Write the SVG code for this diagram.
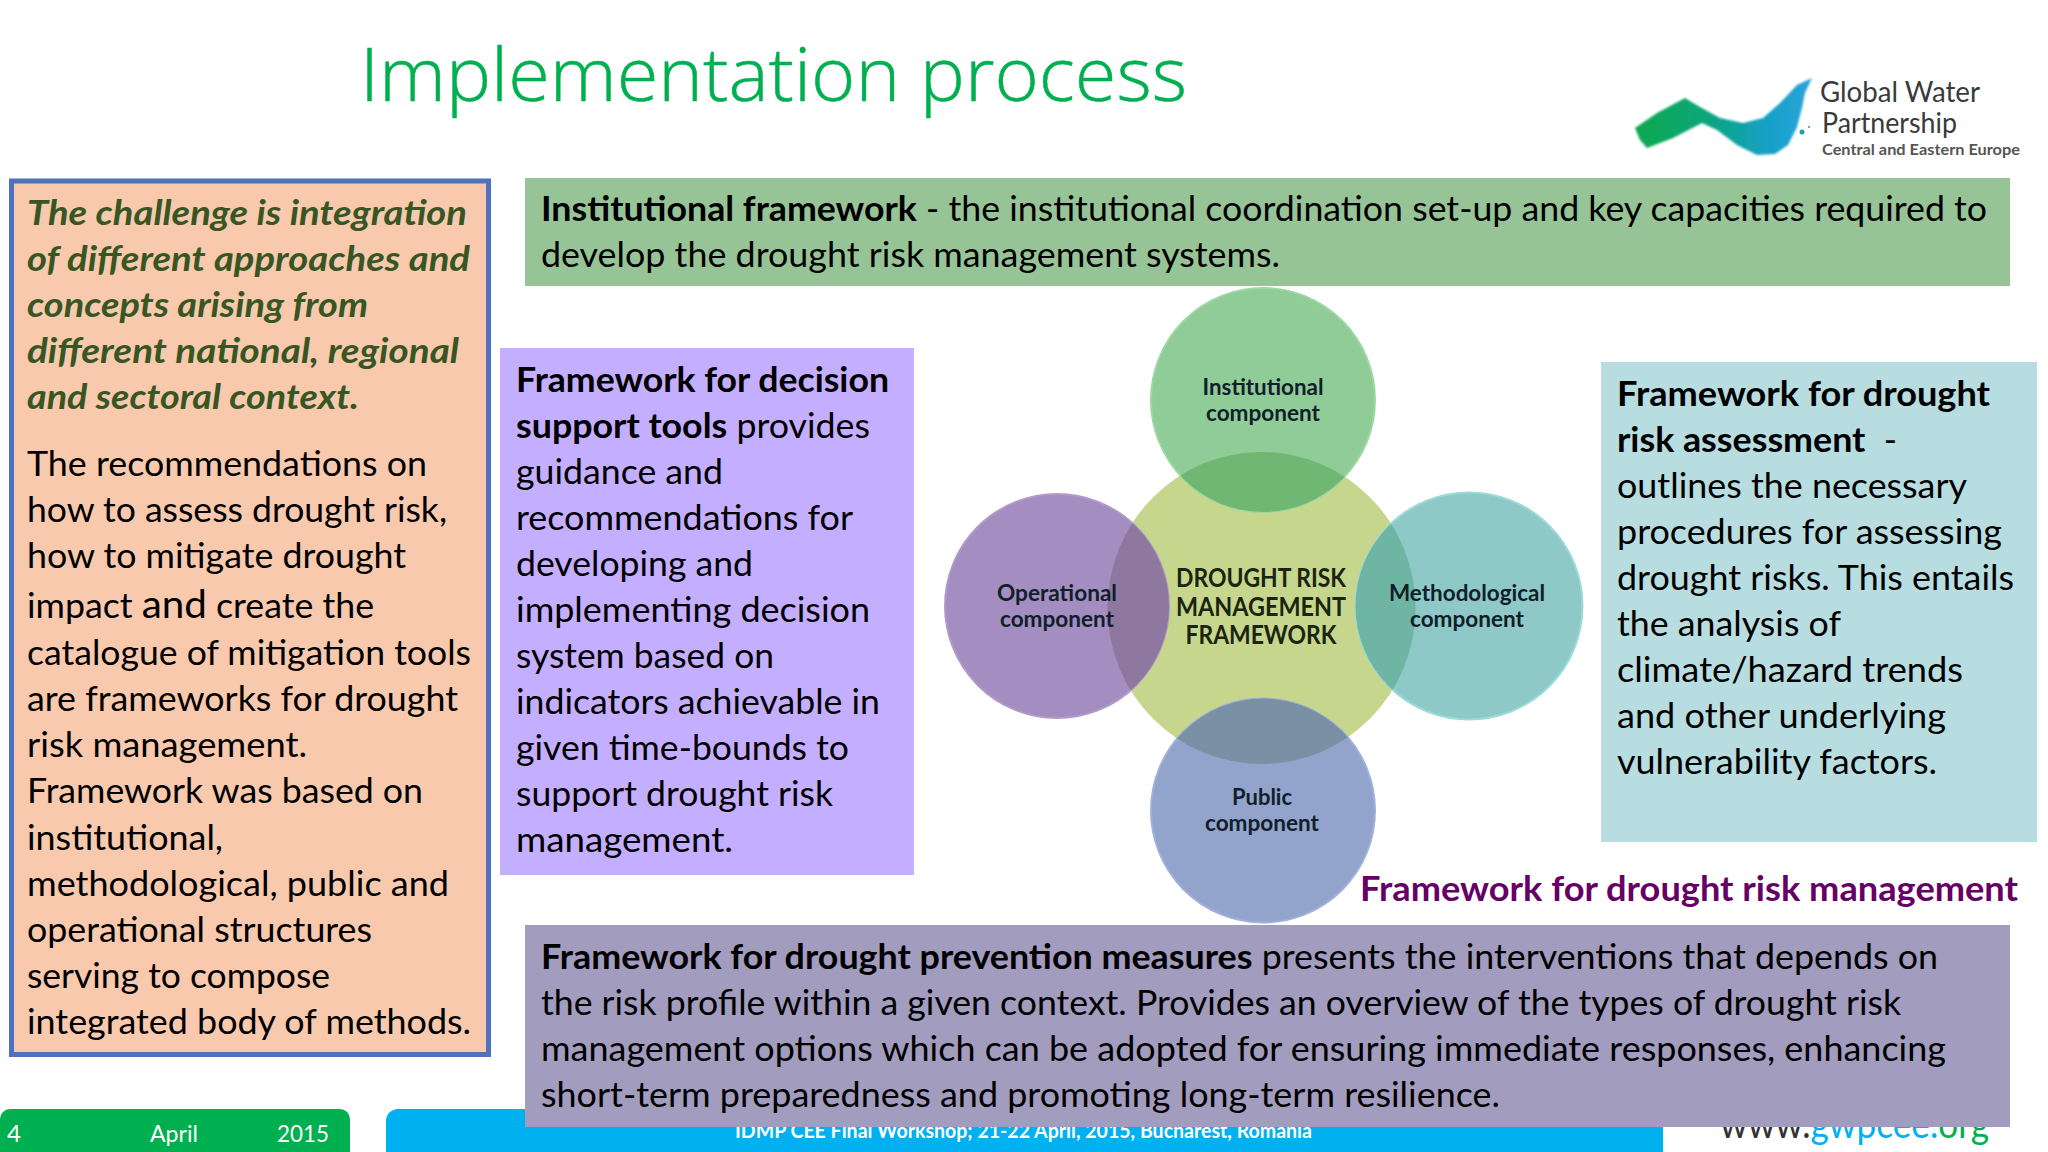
<svg xmlns="http://www.w3.org/2000/svg" width="2048" height="1152" viewBox="0 0 2048 1152">
<style>
text{font-family:Lato,"Liberation Sans",sans-serif;fill:#000;font-size:34.5px}
.b{font-weight:700}
.ch{font-weight:700;font-style:italic;fill:#375623}
.cl{font-size:23px;font-weight:700;fill:#10202a;text-anchor:middle}
.cc{font-size:26px;font-weight:700;fill:#1a2410;text-anchor:middle}
.ft{font-size:24px;fill:#fff}
</style>
<defs>
<linearGradient id="brush" x1="0" x2="1" y1="0" y2="0"><stop offset="0" stop-color="#0aa84f"/><stop offset=".4" stop-color="#0aa67a"/><stop offset=".75" stop-color="#16a0c8"/><stop offset="1" stop-color="#2aa5d8"/></linearGradient>
<clipPath id="cen"><ellipse cx="1261.5" cy="608" rx="154" ry="156"/></clipPath>
<filter id="soft"><feGaussianBlur stdDeviation="0.8"/></filter>
</defs>
<rect width="2048" height="1152" fill="#fff"/>
<g id="title"><text x="360" y="101" style="font-family:'Open Sans',sans-serif;font-weight:300;font-size:74px;fill:#00b050;stroke:#00b050;stroke-width:.5" textLength="827" lengthAdjust="spacingAndGlyphs">Implementation process</text></g>
<g id="logo">
<path d="M1635 128L1657 113L1685 98L1700 107L1720 118L1743 123L1763 118L1780 103L1797 85L1812 78L1805 93L1802 108L1797 127L1788 145L1775 154L1757 155L1737 145L1717 130L1702 123L1673 138L1647 148L1640 140Z" fill="url(#brush)" filter="url(#soft)"/>
<circle cx="1802" cy="132" r="2.5" fill="#1a9fb8"/><circle cx="1809" cy="127" r="1" fill="#1a9fb8"/>
<text x="1820" y="102" style="font-size:28px;fill:#3a3a3a" textLength="160" lengthAdjust="spacingAndGlyphs">Global Water</text>
<text x="1822" y="133" style="font-size:28px;fill:#3a3a3a" textLength="135" lengthAdjust="spacingAndGlyphs">Partnership</text>
<text x="1822" y="155" style="font-size:16px;font-weight:700;fill:#555" textLength="198" lengthAdjust="spacingAndGlyphs">Central and Eastern Europe</text>
</g>
<g id="footer">
<rect x="0" y="1109" width="350" height="60" rx="10" fill="#00b050"/>
<rect x="386" y="1109" width="1277" height="60" rx="12" fill="#00b0f0"/>
<text class="ft" x="7" y="1142">4</text>
<text class="ft" x="150" y="1142" textLength="48" lengthAdjust="spacingAndGlyphs">April</text>
<text class="ft" x="277" y="1142" textLength="52" lengthAdjust="spacingAndGlyphs">2015</text>
<text x="735" y="1138" style="font-size:21px;font-weight:700;fill:#fff" textLength="577" lengthAdjust="spacingAndGlyphs">IDMP CEE Final Workshop; 21-22 April, 2015, Bucharest, Romania</text>
<text x="1720" y="1138" style="font-size:38px;fill:#333" textLength="269" lengthAdjust="spacingAndGlyphs">www.<tspan style="fill:#00b0f0">gwpcee.</tspan><tspan style="fill:#00b050">org</tspan></text>
</g>
<g id="left-box">
<rect x="11.5" y="181" width="477" height="873.5" fill="#f8c9ad" stroke="#4f71be" stroke-width="5"/>
<text class="ch" x="27" y="225" textLength="440" lengthAdjust="spacingAndGlyphs">The challenge is integration</text>
<text class="ch" x="27" y="271" textLength="443" lengthAdjust="spacingAndGlyphs">of different approaches and</text>
<text class="ch" x="27" y="317" textLength="341" lengthAdjust="spacingAndGlyphs">concepts arising from</text>
<text class="ch" x="27" y="363" textLength="432" lengthAdjust="spacingAndGlyphs">different national, regional</text>
<text class="ch" x="27" y="409" textLength="332" lengthAdjust="spacingAndGlyphs">and sectoral context.</text>
<text x="27" y="476" textLength="400" lengthAdjust="spacingAndGlyphs">The recommendations on</text>
<text x="27" y="522" textLength="420" lengthAdjust="spacingAndGlyphs">how to assess drought risk,</text>
<text x="27" y="568" textLength="379" lengthAdjust="spacingAndGlyphs">how to mitigate drought</text>
<text x="27" y="618" textLength="347" lengthAdjust="spacingAndGlyphs">impact <tspan style="font-size:39px">and</tspan> create the</text>
<text x="27" y="665" textLength="444" lengthAdjust="spacingAndGlyphs">catalogue of mitigation tools</text>
<text x="27" y="711" textLength="431" lengthAdjust="spacingAndGlyphs">are frameworks for drought</text>
<text x="27" y="757" textLength="280" lengthAdjust="spacingAndGlyphs">risk management.</text>
<text x="27" y="803" textLength="396" lengthAdjust="spacingAndGlyphs">Framework was based on</text>
<text x="27" y="850" textLength="196" lengthAdjust="spacingAndGlyphs">institutional,</text>
<text x="27" y="896" textLength="422" lengthAdjust="spacingAndGlyphs">methodological, public and</text>
<text x="27" y="942" textLength="345" lengthAdjust="spacingAndGlyphs">operational structures</text>
<text x="27" y="988" textLength="303" lengthAdjust="spacingAndGlyphs">serving to compose</text>
<text x="27" y="1034" textLength="444" lengthAdjust="spacingAndGlyphs">integrated body of methods.</text>
</g>
<g id="institutional-box">
<rect x="525" y="178" width="1485" height="108" fill="#97c497"/>
<text x="541" y="221" textLength="1446" lengthAdjust="spacingAndGlyphs"><tspan class="b">Institutional framework</tspan> - the institutional coordination set-up and key capacities required to</text>
<text x="541" y="267" textLength="739" lengthAdjust="spacingAndGlyphs">develop the drought risk management systems.</text>
</g>
<g id="decision-box">
<rect x="500" y="348" width="414" height="527" fill="#c4aeff"/>
<text class="b" x="516" y="392" textLength="373" lengthAdjust="spacingAndGlyphs">Framework for decision</text>
<text x="516" y="438" textLength="354" lengthAdjust="spacingAndGlyphs"><tspan class="b">support tools</tspan> provides</text>
<text x="516" y="484" textLength="207" lengthAdjust="spacingAndGlyphs">guidance and</text>
<text x="516" y="530" textLength="337" lengthAdjust="spacingAndGlyphs">recommendations for</text>
<text x="516" y="576" textLength="237" lengthAdjust="spacingAndGlyphs">developing and</text>
<text x="516" y="622" textLength="354" lengthAdjust="spacingAndGlyphs">implementing decision</text>
<text x="516" y="668" textLength="258" lengthAdjust="spacingAndGlyphs">system based on</text>
<text x="516" y="714" textLength="364" lengthAdjust="spacingAndGlyphs">indicators achievable in</text>
<text x="516" y="760" textLength="333" lengthAdjust="spacingAndGlyphs">given time-bounds to</text>
<text x="516" y="806" textLength="317" lengthAdjust="spacingAndGlyphs">support drought risk</text>
<text x="516" y="852" textLength="217" lengthAdjust="spacingAndGlyphs">management.</text>
</g>
<g id="assessment-box">
<rect x="1601" y="362" width="436" height="480" fill="#b7dde0"/>
<text class="b" x="1617" y="406" textLength="373" lengthAdjust="spacingAndGlyphs">Framework for drought</text>
<text x="1617" y="452" textLength="280" lengthAdjust="spacingAndGlyphs" xml:space="preserve"><tspan class="b">risk assessment</tspan>  -</text>
<text x="1617" y="498" textLength="350" lengthAdjust="spacingAndGlyphs">outlines the necessary</text>
<text x="1617" y="544" textLength="385" lengthAdjust="spacingAndGlyphs">procedures for assessing</text>
<text x="1617" y="590" textLength="397" lengthAdjust="spacingAndGlyphs">drought risks. This entails</text>
<text x="1617" y="636" textLength="224" lengthAdjust="spacingAndGlyphs">the analysis of</text>
<text x="1617" y="682" textLength="346" lengthAdjust="spacingAndGlyphs">climate/hazard trends</text>
<text x="1617" y="728" textLength="329" lengthAdjust="spacingAndGlyphs">and other underlying</text>
<text x="1617" y="774" textLength="320" lengthAdjust="spacingAndGlyphs">vulnerability factors.</text>
</g>
<g id="node-center">
<ellipse cx="1261.5" cy="608" rx="154" ry="156" fill="#c6d68c"/>
<text class="cc" x="1261" y="587" textLength="170" lengthAdjust="spacingAndGlyphs">DROUGHT RISK</text>
<text class="cc" x="1261" y="616" textLength="170" lengthAdjust="spacingAndGlyphs">MANAGEMENT</text>
<text class="cc" x="1261" y="644" textLength="151" lengthAdjust="spacingAndGlyphs">FRAMEWORK</text>
</g>
<g id="node-institutional">
<circle cx="1263" cy="400" r="112" fill="#90cc98" stroke="#9ad8a4" stroke-width="2"/>
<circle cx="1263" cy="400" r="112" fill="#6fb772" clip-path="url(#cen)"/>
<text class="cl" x="1263" y="395" textLength="121" lengthAdjust="spacingAndGlyphs">Institutional</text>
<text class="cl" x="1263" y="421" textLength="114" lengthAdjust="spacingAndGlyphs">component</text>
</g>
<g id="node-operational">
<circle cx="1057" cy="606" r="112" fill="#a48dc0" stroke="#b09ac8" stroke-width="2"/>
<circle cx="1057" cy="606" r="112" fill="#8f789f" clip-path="url(#cen)"/>
<text class="cl" x="1057" y="600.5" textLength="120" lengthAdjust="spacingAndGlyphs">Operational</text>
<text class="cl" x="1057" y="627" textLength="114" lengthAdjust="spacingAndGlyphs">component</text>
</g>
<g id="node-methodological">
<circle cx="1469" cy="606" r="113.5" fill="#8ec9c8" stroke="#9cdad8" stroke-width="2"/>
<circle cx="1469" cy="606" r="113.5" fill="#6fb5a3" clip-path="url(#cen)"/>
<text class="cl" x="1467" y="600.5" textLength="156" lengthAdjust="spacingAndGlyphs">Methodological</text>
<text class="cl" x="1467" y="627" textLength="114" lengthAdjust="spacingAndGlyphs">component</text>
</g>
<g id="node-public">
<circle cx="1263" cy="810.5" r="112" fill="#93a4cc" stroke="#a0b0da" stroke-width="2"/>
<circle cx="1263" cy="810.5" r="112" fill="#7a91a5" clip-path="url(#cen)"/>
<text class="cl" x="1262" y="805" textLength="60" lengthAdjust="spacingAndGlyphs">Public</text>
<text class="cl" x="1262" y="831" textLength="114" lengthAdjust="spacingAndGlyphs">component</text>
</g>
<g id="caption"><text class="b" x="1360" y="901" style="fill:#660066" textLength="658" lengthAdjust="spacingAndGlyphs">Framework for drought risk management</text></g>
<g id="prevention-box">
<rect x="525" y="925" width="1485" height="202" fill="#a29cbe"/>
<text x="541" y="969" textLength="1397" lengthAdjust="spacingAndGlyphs"><tspan class="b">Framework for drought prevention measures</tspan> presents the interventions that depends on</text>
<text x="541" y="1015" textLength="1360" lengthAdjust="spacingAndGlyphs">the risk profile within a given context. Provides an overview of the types of drought risk</text>
<text x="541" y="1061" textLength="1405" lengthAdjust="spacingAndGlyphs">management options which can be adopted for ensuring immediate responses, enhancing</text>
<text x="541" y="1107" textLength="959" lengthAdjust="spacingAndGlyphs">short-term preparedness and promoting long-term resilience.</text>
</g>
<g id="connectors"/>
</svg>
